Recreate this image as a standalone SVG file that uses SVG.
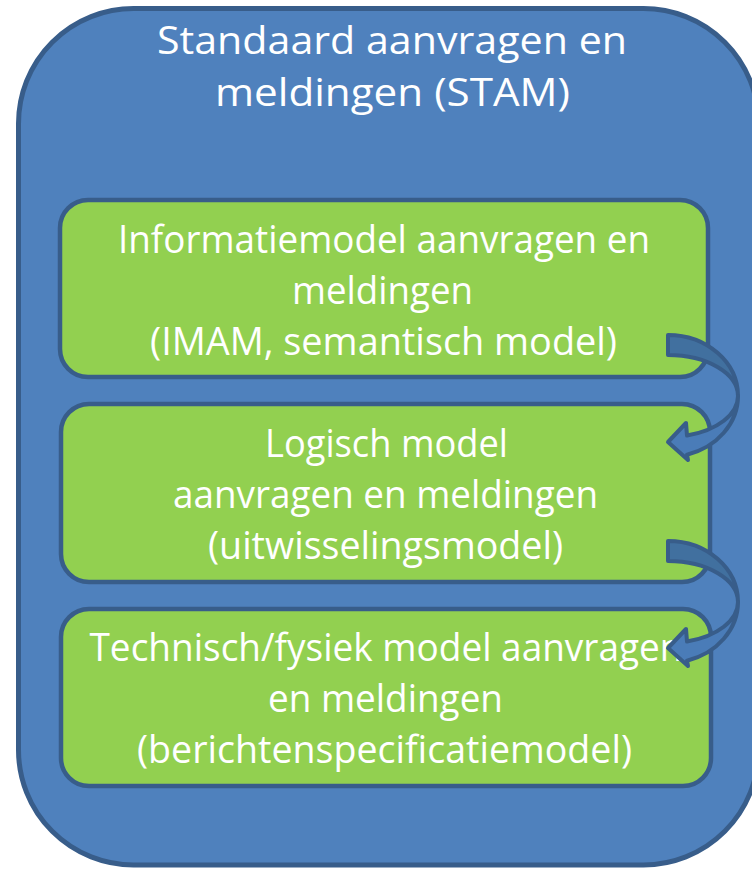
<svg xmlns="http://www.w3.org/2000/svg" width="752" height="869" viewBox="0 0 752 869">
<style>
.outer{fill:#4F81BD;stroke:#385D8A;stroke-width:5}
.box{fill:#92D050;stroke:#385D8A;stroke-width:4.5}
.t{font-family:"Open Sans","Noto Sans","Liberation Sans",sans-serif;font-size:38px;fill:#FFFFFF;text-anchor:middle}
.back{fill:#41709F;stroke:#385D8A;stroke-width:4;stroke-linejoin:round}
.front{fill:#4A7CB8;stroke:#385D8A;stroke-width:4;stroke-linejoin:round}
</style>
<rect width="752" height="869" fill="#FFFFFF"/>
<g id="stam">
<rect class="outer" x="18.5" y="8.5" width="740" height="856.5" rx="115" ry="115"/>
<text class="t" x="392" y="54" textLength="470" lengthAdjust="spacingAndGlyphs">Standaard aanvragen en</text>
<text class="t" x="392.5" y="106" textLength="355" lengthAdjust="spacingAndGlyphs">meldingen (STAM)</text>
</g>
<g id="imam">
<rect class="box" x="60" y="200" width="648" height="177" rx="28" ry="28"/>
<text class="t" x="384" y="253" textLength="532" lengthAdjust="spacingAndGlyphs">Informatiemodel aanvragen en</text>
<text class="t" x="382.5" y="304" textLength="181" lengthAdjust="spacingAndGlyphs">meldingen</text>
<text class="t" x="383.5" y="355" textLength="467" lengthAdjust="spacingAndGlyphs">(IMAM, semantisch model)</text>
</g>
<g id="logisch">
<rect class="box" x="61" y="404" width="649" height="178" rx="28" ry="28"/>
<text class="t" x="386.5" y="457" textLength="243" lengthAdjust="spacingAndGlyphs">Logisch model</text>
<text class="t" x="385.5" y="508" textLength="425" lengthAdjust="spacingAndGlyphs">aanvragen en meldingen</text>
<text class="t" x="385.5" y="559" textLength="355" lengthAdjust="spacingAndGlyphs">(uitwisselingsmodel)</text>
</g>
<g id="technisch">
<rect class="box" x="61" y="609" width="650" height="177" rx="28" ry="28"/>
<text class="t" x="386" y="661" textLength="593" lengthAdjust="spacingAndGlyphs">Technisch/fysiek model aanvragen</text>
<text class="t" x="385.5" y="712" textLength="235" lengthAdjust="spacingAndGlyphs">en meldingen</text>
<text class="t" x="384.5" y="763" textLength="495" lengthAdjust="spacingAndGlyphs">(berichtenspecificatiemodel)</text>
</g>
<g id="connectors">
<g id="arrow1">
<path class="back" d="M668,335 A70,61 0 0 1 738,396 A70,41 0 0 0 668,355 Z"/>
<path class="front" d="M738,396 A70,61 0 0 1 687,454.7 L688,460 L668,442 L686,423 L687,435.5 A70,41 0 0 0 738,396 Z"/>
</g>
<g id="arrow2" transform="translate(0,206)">
<path class="back" d="M668,335 A70,61 0 0 1 738,396 A70,41 0 0 0 668,355 Z"/>
<path class="front" d="M738,396 A70,61 0 0 1 687,454.7 L688,460 L668,442 L686,423 L687,435.5 A70,41 0 0 0 738,396 Z"/>
</g>
</g>
</svg>
